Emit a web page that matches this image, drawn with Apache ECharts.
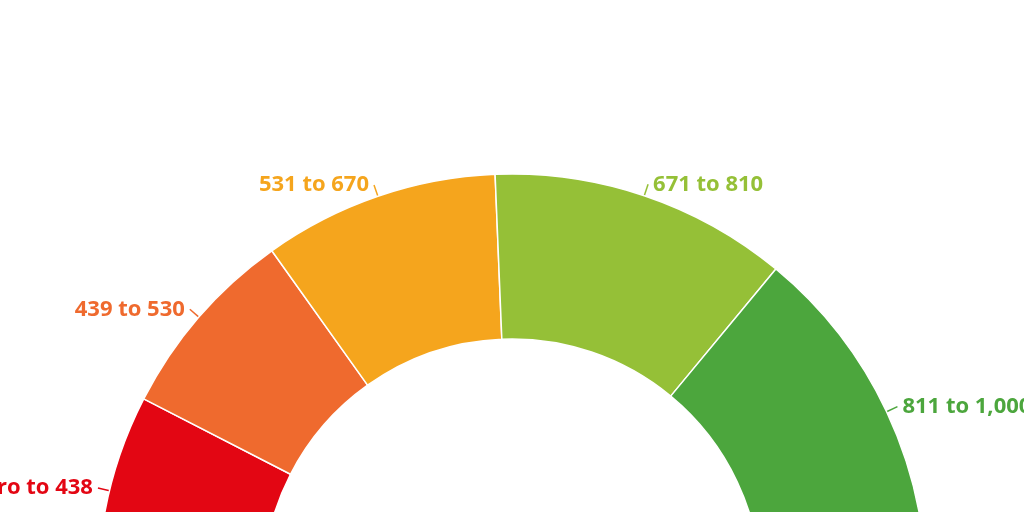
<!DOCTYPE html>
<html><head><meta charset="utf-8">
<script src="https://cdn.jsdelivr.net/npm/echarts@6/dist/echarts.min.js"></script>
<style>html,body{margin:0;background:#fff}#c{width:1024px;height:512px}</style>
</head><body><div id="c"></div>
<script>
const categories = ["Zero to 438","439 to 530","531 to 670","671 to 810","811 to 1,000"];
const values = [15.1, 15.2, 18.4, 23.3, 28.0];
const colors = ["#e30613","#ef6a2e","#f5a51d","#95c037","#4ca63d"];
const total = values.reduce((a,b)=>a+b,0);
const data = categories.map((n,i)=>({name:n,value:values[i],itemStyle:{color:colors[i]},
  label:{color:colors[i]},labelLine:{lineStyle:{color:colors[i]}}}));
data.push({name:"",value:total,itemStyle:{color:"transparent",borderWidth:0},label:{show:false},labelLine:{show:false},emphasis:{disabled:true},tooltip:{show:false}});
const chart = echarts.init(document.getElementById('c'));
chart.setOption({
  animation:false,
  series:[{type:'pie',center:[512,588],radius:[249,414],startAngle:180,clockwise:true,
    avoidLabelOverlap:false,
    itemStyle:{borderColor:'#fff',borderWidth:1.5},
    label:{show:true,position:'outside',formatter:'{b}',fontFamily:'Open Sans',fontWeight:'bold',fontSize:22},
    labelLine:{show:true,length:12,length2:0,lineStyle:{width:1.5}},
    data:data}]
});
</script></body></html>
